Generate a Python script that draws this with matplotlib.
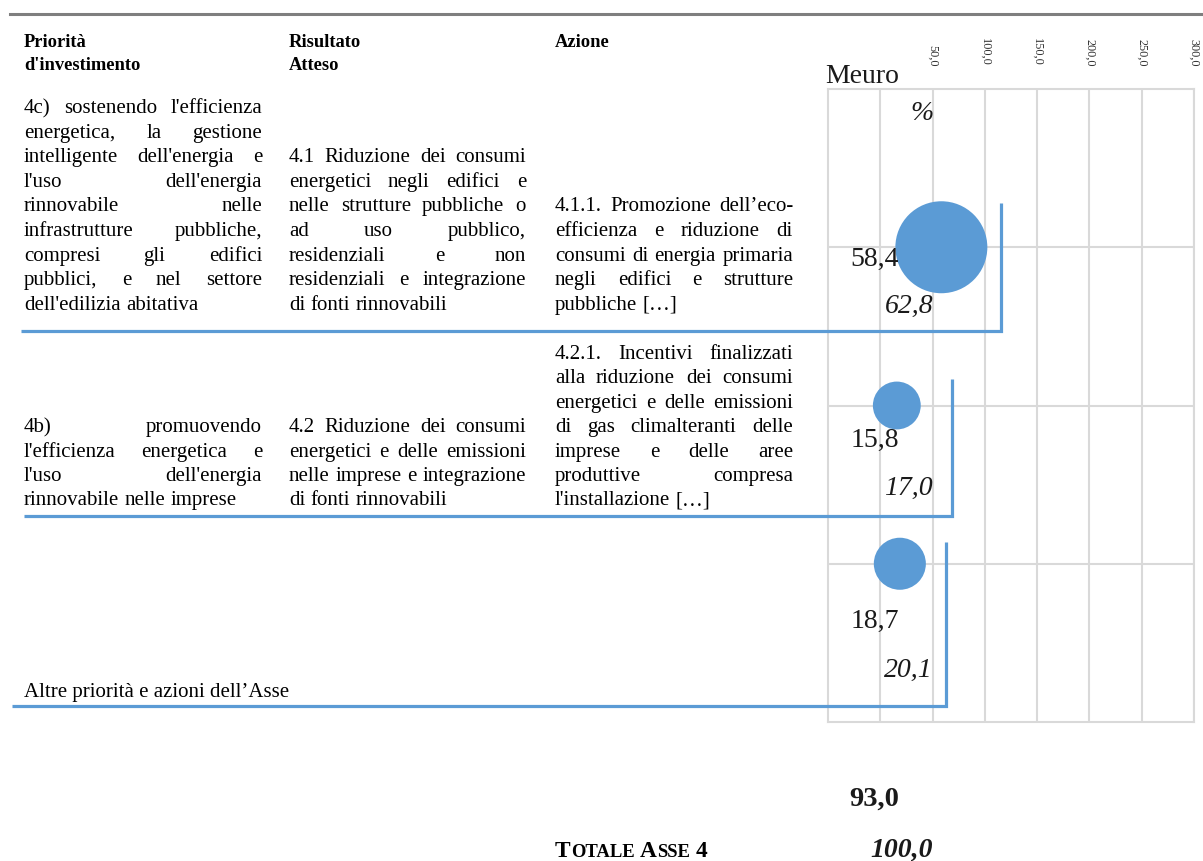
import matplotlib
matplotlib.use("Agg")
import matplotlib.pyplot as plt
from matplotlib.lines import Line2D
import numpy as np

# ---- data ----
priorities = ["4c)", "4b)", "Altre"]
meuro = [58.4, 15.8, 18.7]
percent = [62.8, 17.0, 20.1]
total_meuro = 93.0
total_percent = 100.0
x_ticks = [50, 100, 150, 200, 250, 300]
x_tick_labels = ["50,0", "100,0", "150,0", "200,0", "250,0", "300,0"]

col1_head = ["Priorità", "d'investimento"]
col2_head = ["Risultato", "Atteso"]
col3_head = ["Azione"]

col1_row1 = ["4c) sostenendo l'efficienza", "energetica, la gestione",
             "intelligente dell'energia e", "l'uso dell'energia",
             "rinnovabile nelle", "infrastrutture pubbliche,",
             "compresi gli edifici", "pubblici, e nel settore",
             "dell'edilizia abitativa"]
col2_row1 = ["4.1 Riduzione dei consumi", "energetici negli edifici e",
             "nelle strutture pubbliche o", "ad uso pubblico,",
             "residenziali e non", "residenziali e integrazione",
             "di fonti rinnovabili"]
col3_row1 = ["4.1.1. Promozione dell\u2019eco-", "efficienza e riduzione di",
             "consumi di energia primaria", "negli edifici e strutture",
             "pubbliche [\u2026]"]
col1_row2 = ["4b) promuovendo", "l'efficienza energetica e",
             "l'uso dell'energia", "rinnovabile nelle imprese"]
col2_row2 = ["4.2 Riduzione dei consumi", "energetici e delle emissioni",
             "nelle imprese e integrazione", "di fonti rinnovabili"]
col3_row2 = ["4.2.1. Incentivi finalizzati", "alla riduzione dei consumi",
             "energetici e delle emissioni", "di gas climalteranti delle",
             "imprese e delle aree", "produttive compresa",
             "l'installazione [\u2026]"]
row3_text = "Altre priorità e azioni dell\u2019Asse"

# ---- layout ----
W, H = 1203, 861
SERIF = "Liberation Serif"
BLUE = "#5B9BD5"
GRID = "#D9D9D9"

fig = plt.figure(figsize=(W / 100, H / 100), dpi=100)
fig.patch.set_facecolor("white")
renderer = fig.canvas.get_renderer()


def fx(x):
    return x / W


def fy(y):
    return 1 - y / H


def text_width(t):
    return t.get_window_extent(renderer).width


def draw_line(s, x0, x1, y, justify, **kw):
    words = s.split(" ")
    texts = [fig.text(0, fy(y), w, va="baseline", ha="left", **kw) for w in words]
    widths = [text_width(t) for t in texts]
    space = kw.get("fontsize", 10) * 100 / 72 * 0.25
    if justify and len(words) > 1:
        gap = (x1 - x0 - sum(widths)) / (len(words) - 1)
        gap = max(gap, 2.0)
    else:
        gap = space
    x = x0
    for t, w in zip(texts, widths):
        t.set_x(fx(x))
        x += w + gap


def draw_paragraph(lines, x0, x1, y0, step, **kw):
    for i, s in enumerate(lines):
        draw_line(s, x0, x1, y0 + i * step, justify=(i < len(lines) - 1), **kw)


BODY = dict(fontsize=15, family=SERIF, color="black")
HEAD = dict(fontsize=13.3, family=SERIF, fontweight="bold", color="black")

cols = [(24, 262), (289, 526), (555, 793)]

# header rows
for (x0, x1), head in zip(cols, [col1_head, col2_head, col3_head]):
    for i, s in enumerate(head):
        fig.text(fx(x0), fy(47 + i * 23), s, va="baseline", ha="left", **HEAD)

# first block
step1 = 24.6
b1 = 113
draw_paragraph(col1_row1, *cols[0], b1, step1, **BODY)
draw_paragraph(col2_row1, *cols[1], b1 + 2 * step1, step1, **BODY)
draw_paragraph(col3_row1, *cols[2], b1 + 4 * step1, step1, **BODY)

# second block
step2 = 24.4
b2 = 359
draw_paragraph(col3_row2, *cols[2], b2, step2, **BODY)
draw_paragraph(col1_row2, *cols[0], b2 + 3 * step2, step2, **BODY)
draw_paragraph(col2_row2, *cols[1], b2 + 3 * step2, step2, **BODY)

# third block
fig.text(fx(24), fy(697), row3_text, va="baseline", ha="left", **BODY)

# total label in small caps
sc_parts = [("T", 16.8), ("OTALE", 13.4), (" ", 16.8), ("A", 16.8), ("SSE", 13.4),
            (" ", 16.8), ("4", 16.8)]
xc = 555
for s, fs in sc_parts:
    if s == " ":
        xc += fs * 100 / 72 * 0.25
        continue
    t = fig.text(fx(xc), fy(857), s, va="baseline", ha="left", fontsize=fs,
                 family=SERIF, fontweight="bold", color="black")
    xc += text_width(t)

# top rule
fig.add_artist(Line2D([fx(10), fx(1203)], [fy(14), fy(14)], color="#7F7F7F", lw=2.2))

# ---- bubble chart ----
ax = fig.add_axes([fx(828), fy(722), fx(1194) - fx(828), fy(89) - fy(722)])
ax.set_xlim(-50, 300)
ax.set_ylim(4, 0)
ypos = np.arange(1, len(meuro) + 1)

ax.set_xticks(x_ticks)
ax.set_xticklabels(x_tick_labels, rotation=-90, fontsize=8.8, family=SERIF, color="#333333")
ax.set_xticks([0], minor=True)
ax.set_yticks(ypos)
ax.set_yticklabels([])
ax.xaxis.tick_top()
ax.tick_params(axis="x", which="both", length=0, pad=16.5)
ax.tick_params(axis="y", length=0)
ax.grid(True, which="both", color=GRID, lw=1.5)
ax.set_axisbelow(True)
for sp in ax.spines.values():
    sp.set_color(GRID)
    sp.set_linewidth(1.5)

ax.scatter(meuro, ypos, s=np.array(meuro) * 75.1, color=BLUE, edgecolors="none", zorder=3)

meuro_dy = [0.118, 0.262, 0.406]
pct_dy = [0.415, 0.566, 0.716]
for y, m, p, dm, dp in zip(ypos, meuro, percent, meuro_dy, pct_dy):
    ax.text(18, y + dm, f"{m:.1f}".replace(".", ","), ha="right", va="baseline",
            fontsize=20, family=SERIF, color="#1a1a1a", zorder=4)
    ax.text(50.5, y + dp, f"{p:.1f}".replace(".", ","), ha="right", va="baseline",
            fontsize=20, family=SERIF, style="italic", color="#1a1a1a", zorder=4)

ax.text(18, 4.53, f"{total_meuro:.1f}".replace(".", ","), ha="right", va="baseline",
        fontsize=20.5, family=SERIF, fontweight="bold", color="#1a1a1a", clip_on=False)
ax.text(50.5, 4.85, f"{total_percent:.1f}".replace(".", ","), ha="right", va="baseline",
        fontsize=20, family=SERIF, fontweight="bold", style="italic", color="#1a1a1a",
        clip_on=False)

fig.text(fx(825), fy(83), "Meuro", ha="left", va="baseline", fontsize=20, family=SERIF,
         color="#1a1a1a")
fig.text(fx(922), fy(120), "%", ha="center", va="baseline", fontsize=20, family=SERIF,
         style="italic", color="#1a1a1a")

# ---- bracket connectors ----
brackets = [((21, 331), (1001, 331), (1001, 203)),
            ((24, 516), (952, 516), (952, 379)),
            ((12, 706), (946, 706), (946, 542))]
for pts in brackets:
    xs = [fx(p[0]) for p in pts]
    ys = [fy(p[1]) for p in pts]
    fig.add_artist(Line2D(xs, ys, color=BLUE, lw=2.3, zorder=10,
                          solid_joinstyle="miter", solid_capstyle="butt"))

fig.savefig("out.png", dpi=100, facecolor="white")
